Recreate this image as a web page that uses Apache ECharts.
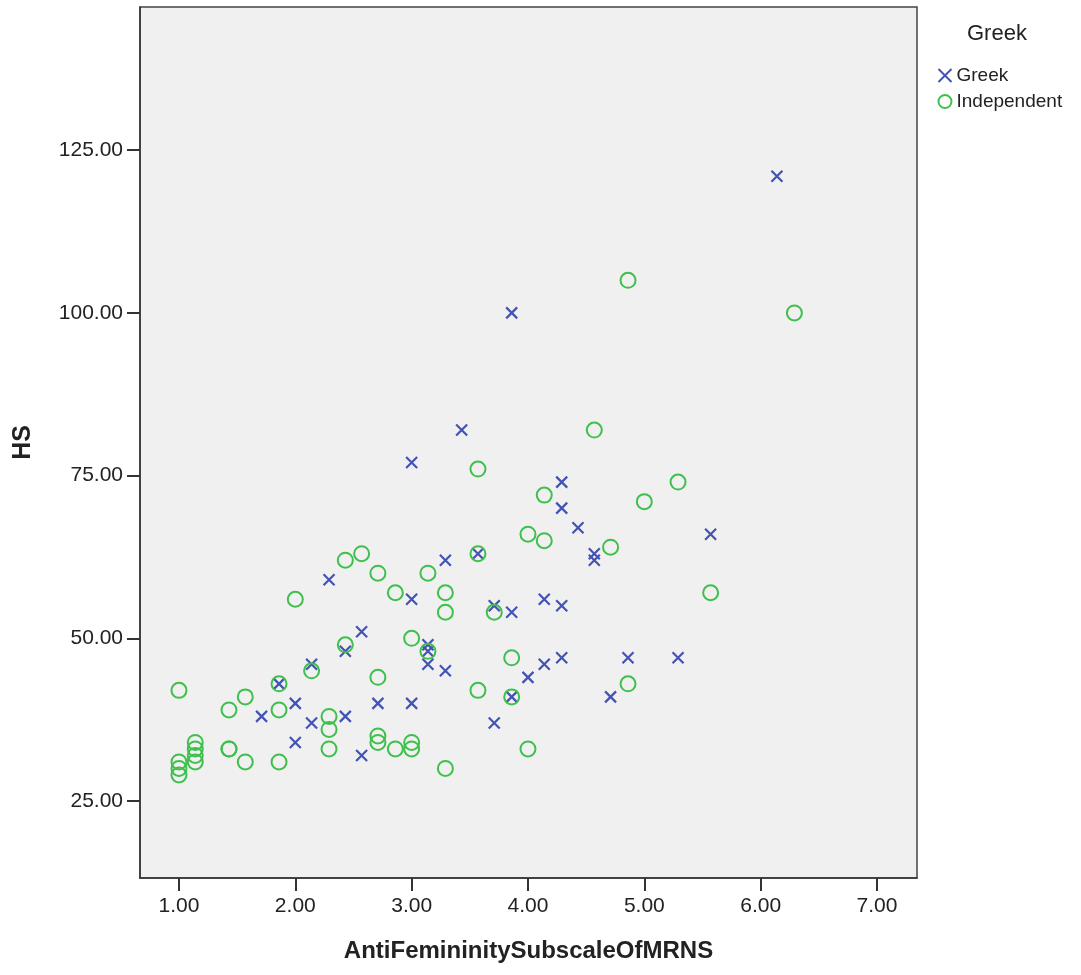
<!DOCTYPE html>
<html>
<head>
<meta charset="utf-8">
<script src="https://cdn.jsdelivr.net/npm/echarts@6/dist/echarts.min.js"></script>
<style>
  html, body { margin: 0; padding: 0; background: #fff; }
  #chart { width: 1081px; height: 975px; }
</style>
</head>
<body>
<div id="chart"></div>
<script>
// AntiFemininitySubscaleOfMRNS vs HS, split by group
var greek = [
  [1.86, 43], [1.71, 38], [2.00, 40], [2.00, 34], [2.14, 46], [2.14, 37],
  [2.29, 59], [2.43, 48], [2.43, 38], [2.57, 51], [2.57, 32], [2.71, 40],
  [3.00, 77], [3.00, 56], [3.00, 40], [3.14, 49], [3.14, 48], [3.14, 46],
  [3.29, 62], [3.29, 45], [3.43, 82], [3.57, 63], [3.71, 55], [3.71, 37],
  [3.86, 100], [3.86, 54], [3.86, 41], [4.00, 44], [4.14, 56], [4.14, 46],
  [4.29, 74], [4.29, 70], [4.29, 55], [4.29, 47], [4.43, 67], [4.57, 63],
  [4.57, 62], [4.71, 41], [4.86, 47], [5.29, 47], [5.57, 66], [6.14, 121]
];
var independent = [
  [1.00, 42], [1.00, 31], [1.00, 30], [1.00, 29], [1.14, 34], [1.14, 33],
  [1.14, 32], [1.14, 31], [1.43, 39], [1.43, 33], [1.43, 33], [1.57, 41],
  [1.57, 31], [1.86, 43], [1.86, 39], [1.86, 31], [2.00, 56], [2.14, 45],
  [2.29, 38], [2.29, 36], [2.29, 33], [2.43, 62], [2.43, 49], [2.57, 63],
  [2.71, 60], [2.71, 44], [2.71, 35], [2.71, 34], [2.86, 57], [2.86, 33],
  [3.00, 50], [3.00, 34], [3.00, 33], [3.14, 60], [3.14, 48], [3.29, 57],
  [3.29, 54], [3.29, 30], [3.57, 76], [3.57, 63], [3.57, 42], [3.71, 54],
  [3.86, 47], [3.86, 41], [4.00, 66], [4.00, 33], [4.14, 72], [4.14, 65],
  [4.57, 82], [4.71, 64], [4.86, 105], [4.86, 43], [5.00, 71], [5.29, 74],
  [5.57, 57], [6.29, 100]
];
var xTicks = [1, 2, 3, 4, 5, 6, 7];
var yTicks = [25, 50, 75, 100, 125];

var blue = '#4353b3';
var green = '#3fbf4c';
var ink = '#222';
var font = 'Liberation Sans';
var cross = 'path://M0,0L10,10M10,0L0,10';

var chart = echarts.init(document.getElementById('chart'), null, { renderer: 'canvas' });
chart.setOption({
  animation: false,
  backgroundColor: '#fff',
  grid: {
    left: 140, right: 164, top: 7, bottom: 97,
    outerBoundsMode: 'none',
    containLabel: false,
    show: true, backgroundColor: '#f0f0f0', borderColor: '#444', borderWidth: 1.5
  },
  xAxis: {
    type: 'value',
    min: 0.665, max: 7.344,
    name: 'AntiFemininitySubscaleOfMRNS',
    nameLocation: 'middle',
    nameGap: 61,
    nameTextStyle: { color: ink, fontFamily: font, fontSize: 24, fontWeight: 'bold' },
    axisLine: { show: true, lineStyle: { color: '#333', width: 1.5 } },
    axisTick: { show: true, customValues: xTicks, length: 13, lineStyle: { color: '#333', width: 2 } },
    axisLabel: {
      customValues: xTicks, margin: 18, color: ink, fontFamily: font, fontSize: 21,
      formatter: function (v) { return v.toFixed(2); }
    },
    splitLine: { show: false }
  },
  yAxis: {
    type: 'value',
    min: 13.17, max: 147,
    name: 'HS',
    nameLocation: 'middle',
    nameGap: 104,
    nameTextStyle: { color: ink, fontFamily: font, fontSize: 25, fontWeight: 'bold' },
    axisLine: { show: true, lineStyle: { color: '#333', width: 1.5 } },
    axisTick: { show: true, customValues: yTicks, length: 13, lineStyle: { color: '#333', width: 2 } },
    axisLabel: {
      customValues: yTicks, margin: 17, color: ink, fontFamily: font, fontSize: 21,
      formatter: function (v) { return v.toFixed(2); }
    },
    splitLine: { show: false }
  },
  legend: {
    orient: 'vertical',
    left: 931, top: 61,
    itemGap: 7,
    itemWidth: 13, itemHeight: 13,
    textStyle: { color: ink, fontFamily: font, fontSize: 19 },
    data: [
      { name: 'Greek', icon: cross, itemStyle: { color: 'none', borderColor: blue, borderWidth: 2 } },
      { name: 'Independent', icon: 'circle', itemStyle: { color: 'none', borderColor: green, borderWidth: 2 } }
    ]
  },
  graphic: [{
    type: 'text', left: 967, top: 23,
    style: { text: 'Greek', fill: ink, font: '22px "Liberation Sans"' }
  }],
  series: [
    {
      name: 'Greek',
      type: 'scatter',
      symbol: cross,
      symbolSize: 11,
      itemStyle: { color: 'none', borderColor: blue, borderWidth: 2.2, opacity: 1 },
      data: greek
    },
    {
      name: 'Independent',
      type: 'scatter',
      symbol: 'circle',
      symbolSize: 15,
      itemStyle: { color: 'none', borderColor: green, borderWidth: 2, opacity: 1 },
      data: independent
    }
  ]
});
</script>
</body>
</html>
